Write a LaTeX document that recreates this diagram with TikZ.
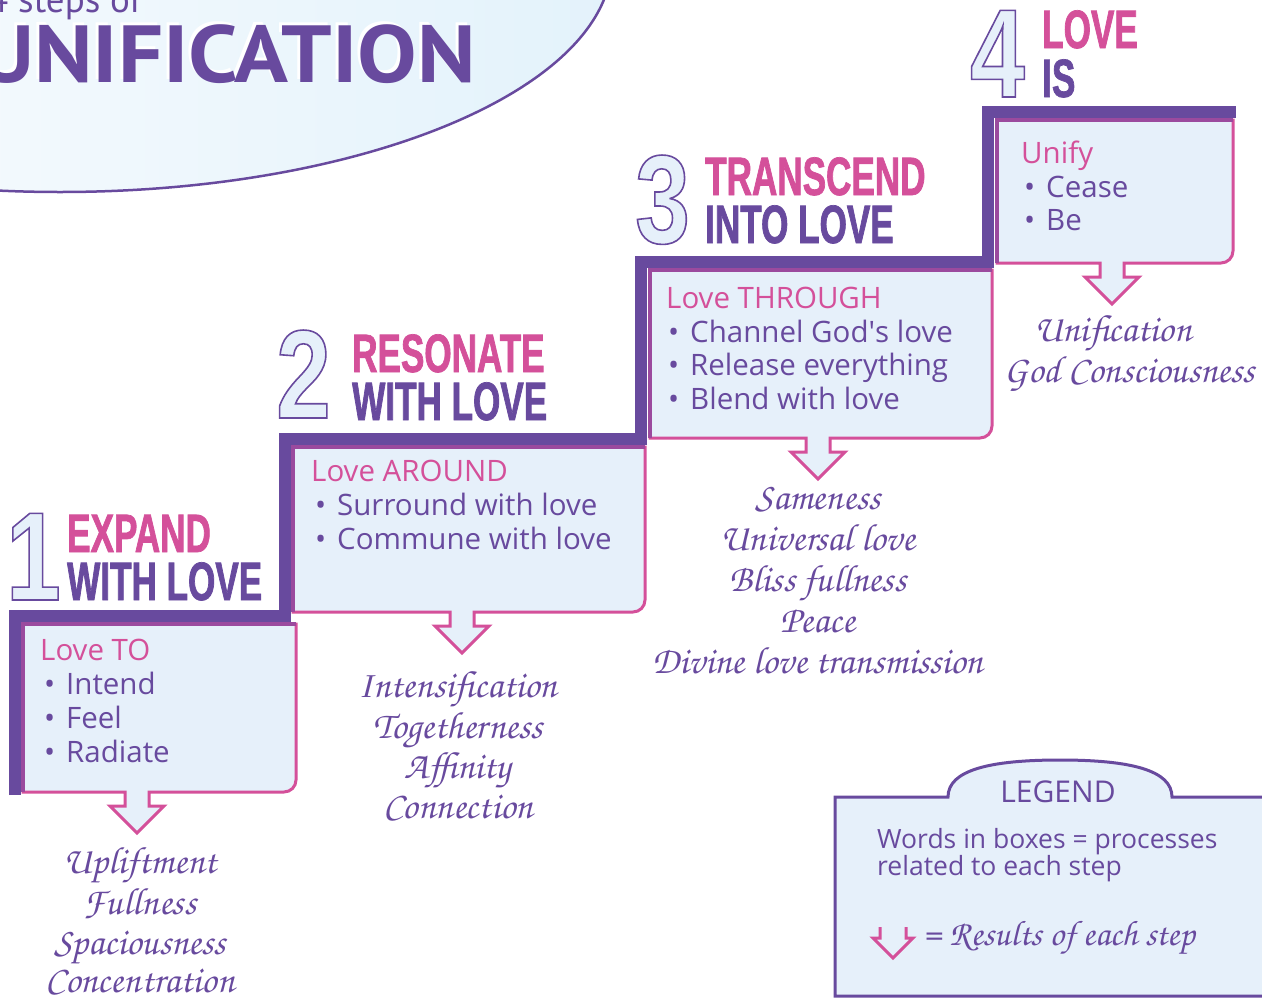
\documentclass[tikz,border=0pt]{standalone}
\usepackage{fontspec}
\setmainfont{Open Sans}
\newfontfamily\titlefont{PT Sans}
\newfontfamily\titlebold[FakeStretch=1.1]{PT Sans Bold}
\newfontfamily\condfont[FakeStretch=0.65,FakeBold=1.3]{Liberation Sans Bold}
\newfontfamily\numfont[FakeStretch=0.78]{Liberation Sans Bold}
\newfontfamily\chorusfont{texgyrechorus-mediumitalic.otf}
\definecolor{upurple}{HTML}{684A9E}
\definecolor{upink}{HTML}{D4509A}
\definecolor{ublue}{HTML}{E6F0FA}
\definecolor{umix}{HTML}{9B4A9E}
\definecolor{uellipse}{HTML}{E3F2FB}
\newcommand\outl[1]{\special{pdf:literal direct 2 Tr 1.6 w 0.408 0.290 0.620 RG}#1\special{pdf:literal direct 0 Tr}}
\newcommand\apos{\XeTeXglyph\XeTeXcharglyph"0027\relax}
\newcommand\stepbox[5]{%
  \filldraw[fill=ublue, draw=upink, line width=3pt, line join=miter]
    (#1,#2) -- (#3,#2) -- (#3,{#4-12}) .. controls (#3,{#4-5.4}) and ({#3-5.4},#4) .. ({#3-12},#4)
    -- ({#5+12},#4) -- ({#5+12},{#4+14}) -- ({#5+27},{#4+14}) -- (#5,{#4+41})
    -- ({#5-27},{#4+14}) -- ({#5-12},{#4+14}) -- ({#5-12},#4) -- (#1,#4) -- cycle;
  \draw[umix, line width=4pt] (#1,#4) -- (#1,#2) -- (#3,#2);
}
\tikzset{
  boxhead/.style={anchor=base west, inner sep=0pt, text=upink, font=\fontsize{29.5}{34}\selectfont},
  boxitem/.style={anchor=base west, inner sep=0pt, text=upurple, font=\fontsize{29.5}{34}\selectfont},
  headpink/.style={anchor=base west, inner sep=0pt, text=upink, font=\fontsize{54}{54}\condfont},
  headpurple/.style={anchor=base west, inner sep=0pt, text=upurple, font=\fontsize{54}{54}\condfont},
  bignum/.style={anchor=base west, inner sep=0pt, text=ublue, font=\fontsize{126}{126}\numfont},
  result/.style={anchor=base, inner sep=0pt, text=upurple, font=\fontsize{38}{38}\chorusfont},
  legtext/.style={anchor=base west, inner sep=0pt, text=upurple, font=\fontsize{26.5}{27}\selectfont},
}
\newcommand\bul[1]{\makebox[22pt][l]{\textbullet}#1}
\begin{document}
\begin{tikzpicture}[x=1pt,y=-1pt]
\useasboundingbox (0,0) rectangle (1262,999);
\clip (0,0) rectangle (1262,999);
% title ellipse
\shade[left color=white, right color=uellipse] (60,-40) ellipse [x radius=552pt, y radius=232pt];
\draw[upurple, line width=2.5pt] (60,-40) ellipse [x radius=552pt, y radius=232pt];
\node[anchor=base west, inner sep=0pt, text=upurple, font=\fontsize{37}{37}\titlefont] (sub) at (-12,12) {4 steps of};
\node[anchor=base east, inner sep=0pt, text=white, font=\fontsize{81}{81}\titlebold] (titleshadow) at (473,79) {UNIFICATION};
\node[anchor=base east, inner sep=0pt, text=upurple, font=\fontsize{81}{81}\titlebold] (title) at (476,82) {UNIFICATION};
% boxes
\stepbox{23}{624}{296}{792}{137}
\stepbox{293}{447}{645}{612}{462}
\stepbox{650}{270}{992}{438}{818}
\stepbox{997}{120}{1233}{263}{1112}
% staircase
\draw[upurple, line width=12pt, line join=miter] (15,795) -- (15,616) -- (285,616) -- (285,439) -- (641,439) -- (641,262) -- (988,262) -- (988,112) -- (1236,112);
% numerals
\node[bignum] (n1) at (6,600) {\outl{1}};
\node[bignum] (n2) at (276,418) {\outl{2}};
\node[bignum] (n3) at (635,243) {\outl{3}};
\node[bignum] (n4) at (970,97) {\outl{4}};
% headings
\node[headpink] (h1a) at (67,552) {EXPAND};
\node[headpurple] (h1b) at (67,600) {WITH LOVE};
\node[headpink] (h2a) at (352,372) {RESONATE};
\node[headpurple] (h2b) at (352,420) {WITH LOVE};
\node[headpink] (h3a) at (705,195) {TRANSCEND};
\node[headpurple] (h3b) at (705,243) {INTO LOVE};
\node[headpink] (h4a) at (1042,48) {LOVE};
\node[headpurple] (h4b) at (1042,97) {IS};
% box texts
\node[boxhead] (b1h) at (40,660) {Love TO};
\node[boxitem] (b1a) at (44,694) {\bul{Intend}};
\node[boxitem] (b1b) at (44,728) {\bul{Feel}};
\node[boxitem] (b1c) at (44,762) {\bul{Radiate}};
\node[boxhead] (b2h) at (311,481) {Love AROUND};
\node[boxitem] (b2a) at (315,515) {\bul{Surround with love}};
\node[boxitem] (b2b) at (315,549) {\bul{Commune with love}};
\node[boxhead] (b3h) at (666,308) {Love THROUGH};
\node[boxitem] (b3a) at (668,342) {\bul{Channel God\apos s love}};
\node[boxitem] (b3b) at (668,375) {\bul{Release everything}};
\node[boxitem] (b3c) at (668,409) {\bul{Blend with love}};
\node[boxhead] (b4h) at (1021,163) {Unify};
\node[boxitem] (b4a) at (1024,197) {\bul{Cease}};
\node[boxitem] (b4b) at (1024,230) {\bul{Be}};
% results
\node[result] (r1a) at (140,873) {Upliftment};
\node[result] (r1b) at (140,914) {Fullness};
\node[result] (r1c) at (140,954) {Spaciousness};
\node[result] (r1d) at (140,992) {Concentration};
\node[result] (r2a) at (458,697) {Intensification};
\node[result] (r2b) at (458,738) {Togetherness};
\node[result] (r2c) at (458,778) {Affinity};
\node[result] (r2d) at (458,818) {Connection};
\node[result] (r3a) at (818,509) {Sameness};
\node[result] (r3b) at (818,550) {Universal love};
\node[result] (r3c) at (818,591) {Bliss fullness};
\node[result] (r3d) at (818,632) {Peace};
\node[result] (r3e) at (818,673) {Divine love transmission};
\node[result] (r4a) at (1113,341) {Unification};
\node[result] (r4b) at (1130,382) {God Consciousness};
% legend
\filldraw[fill=ublue, draw=upurple, line width=3pt] (1275,797) -- (1172,797) .. controls (1172,770) and (1130,760) .. (1060,760) .. controls (990,760) and (948,770) .. (948,797) -- (835,797) -- (835,996) -- (1275,996);
\node[anchor=base, inner sep=0pt, text=upurple, font=\fontsize{30}{30}\selectfont] (legT) at (1058,802) {LEGEND};
\node[legtext] (leg1) at (877,848) {Words in boxes = processes};
\node[legtext] (leg2) at (877,875) {related to each step};
\draw[upink, line width=3pt, line join=miter] (880,927) -- (880,938) -- (873,938) -- (893,958) -- (913,938) -- (906,938) -- (906,927);
\node[result, anchor=base west, font=\fontsize{35.5}{36}\chorusfont] (leg3) at (923,945) {= Results of each step};
\end{tikzpicture}
\end{document}
